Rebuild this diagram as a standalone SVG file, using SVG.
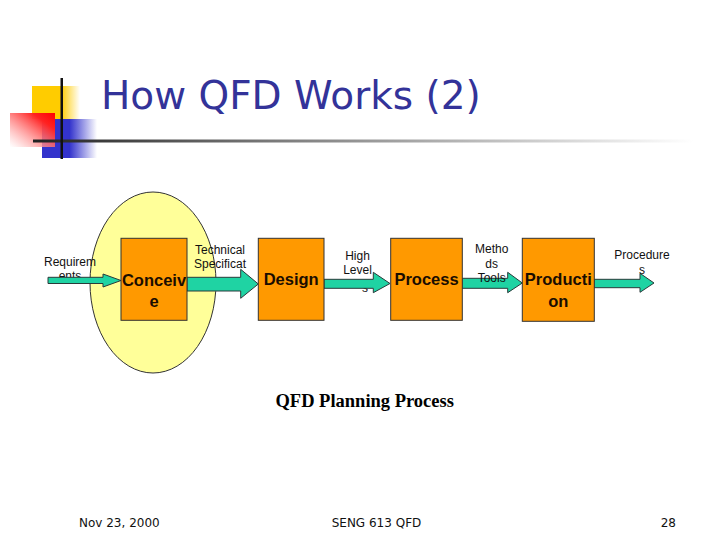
<svg xmlns="http://www.w3.org/2000/svg" width="720" height="540" viewBox="0 0 720 540">
<defs>
<linearGradient id="gY" x1="0" y1="0" x2="1" y2="0"><stop offset="0" stop-color="#FFCC00"/><stop offset="0.6" stop-color="#FFCC00"/><stop offset="1" stop-color="#FFCC00" stop-opacity="0"/></linearGradient>
<linearGradient id="gB" x1="0" y1="0" x2="1" y2="0"><stop offset="0" stop-color="#3333CC"/><stop offset="0.5" stop-color="#3333CC"/><stop offset="1" stop-color="#3333CC" stop-opacity="0"/></linearGradient>
<linearGradient id="gR" x1="1" y1="0" x2="0" y2="1"><stop offset="0" stop-color="#FF0000"/><stop offset="0.25" stop-color="#FF2222"/><stop offset="1" stop-color="#FFFFFF" stop-opacity="0.6"/></linearGradient>
<linearGradient id="gL" x1="0" y1="0" x2="1" y2="0"><stop offset="0" stop-color="#222222"/><stop offset="0.35" stop-color="#777777"/><stop offset="1" stop-color="#FFFFFF"/></linearGradient>
<style>
.box{fill:#FF9900;stroke:#333;stroke-width:1}
.arr{fill:#1FD3A3;stroke:#2a3a3a;stroke-width:1}
.bt{font-family:"Liberation Sans",Arial,sans-serif;font-weight:bold;font-size:16.5px;fill:#1a0d00;text-anchor:middle}
.lb{font-family:"Liberation Sans",Arial,sans-serif;font-size:12px;fill:#111;text-anchor:middle}
.ft{font-family:"DejaVu Sans",Verdana,sans-serif;font-size:12px;fill:#111}
</style>
</defs>
<rect width="720" height="540" fill="#FFFFFF"/>
<g id="decor">
<rect x="32" y="86" width="48" height="33" fill="url(#gY)"/>
<rect x="42" y="119" width="55" height="39" fill="url(#gB)"/>
<rect x="10" y="113" width="45" height="34" fill="url(#gR)"/>
<rect x="33" y="139.5" width="660" height="3" fill="url(#gL)"/>
<rect x="60.5" y="78" width="2.5" height="81" fill="#111"/>
</g>
<text id="title" x="101" y="108.5" font-family="DejaVu Sans, Verdana, sans-serif" font-size="39" fill="#333399">How QFD Works (2)</text>
<g id="scope">
<ellipse cx="153" cy="282.5" rx="63" ry="90.5" fill="#FFFF99" stroke="#333" stroke-width="1"/>
</g>
<g id="labels-under">
<text class="lb" x="70" y="266">Requirem</text>
<text class="lb" x="70" y="280">ents</text>
<text class="lb" x="357.5" y="259.5">High</text>
<text class="lb" x="357.5" y="274">Level</text>
<text class="lb" x="365" y="291.5">s</text>
</g>
<g id="connectors">
<polygon class="arr" points="48,277.3 103,277.3 103,274 121,280.5 103,287 103,283.5 48,283.5"/>
<polygon class="arr" points="187,277.3 240.7,277.3 240.7,269.3 258.3,284 240.7,298.3 240.7,291 187,291"/>
<polygon class="arr" points="324,279.3 373.3,279.3 373.3,272.3 390,283.5 373.3,292.7 373.3,288.3 324,288.3"/>
<polygon class="arr" points="462,278.3 507.7,278.3 507.7,272.3 522.3,283 507.7,292.7 507.7,288.3 462,288.3"/>
<polygon class="arr" points="594,279.3 640,279.3 640,273.3 654,283 640,292.3 640,287.7 594,287.7"/>
</g>
<g id="conceive">
<rect class="box" x="121" y="238.3" width="66" height="82"/>
<text class="bt" x="154" y="285.7">Conceiv</text>
<text class="bt" x="154" y="307.3">e</text>
</g>
<g id="design">
<rect class="box" x="258.3" y="238.3" width="65.7" height="82"/>
<text class="bt" x="291.2" y="285">Design</text>
</g>
<g id="process">
<rect class="box" x="390.7" y="238.3" width="71.6" height="82"/>
<text class="bt" x="426.5" y="285">Process</text>
</g>
<g id="production">
<rect class="box" x="522.3" y="238.3" width="72" height="83"/>
<text class="bt" x="558.3" y="285">Producti</text>
<text class="bt" x="558.3" y="306.7">on</text>
</g>
<g id="labels">
<text class="lb" x="220" y="254">Technical</text>
<text class="lb" x="220" y="268">Specificat</text>
<text class="lb" x="491.7" y="253.3">Metho</text>
<text class="lb" x="491.7" y="267.7">ds</text>
<text class="lb" x="491.7" y="281.7">Tools</text>
<text class="lb" x="642" y="259.3">Procedure</text>
<text class="lb" x="642" y="273.5">s</text>
</g>
<text id="caption" x="364.7" y="407.3" font-family="Liberation Serif, Times New Roman, serif" font-weight="bold" font-size="18.5" fill="#000" text-anchor="middle">QFD Planning Process</text>
<g id="footer">
<text class="ft" x="79" y="526.7">Nov 23, 2000</text>
<text class="ft" x="376.5" y="526.7" text-anchor="middle">SENG 613 QFD</text>
<text class="ft" x="676" y="526.7" text-anchor="end">28</text>
</g>
</svg>
